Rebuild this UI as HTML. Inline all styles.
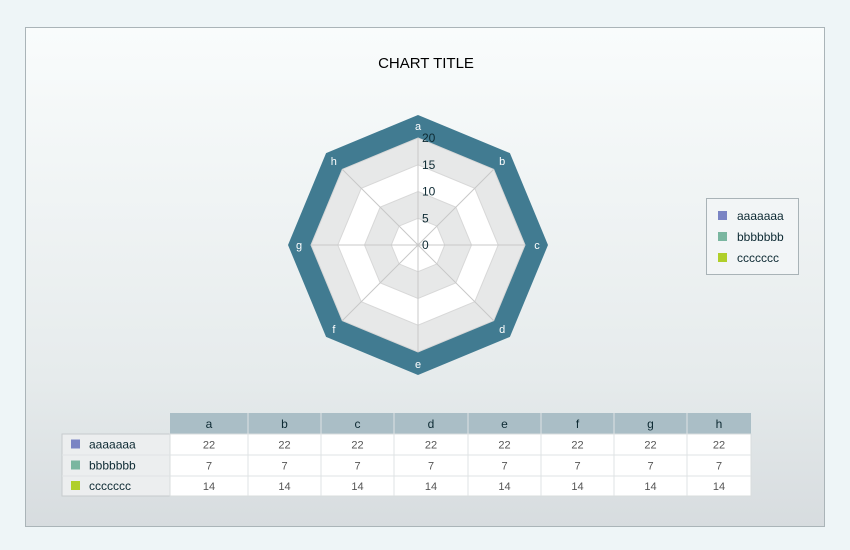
<!DOCTYPE html>
<html><head><meta charset="utf-8"><style>
body{margin:0;width:850px;height:550px;background:#eef5f7;font-family:"Liberation Sans",sans-serif;overflow:hidden}
#frame{position:absolute;left:25px;top:27px;width:798px;height:498px;border:1px solid #aab4b8;background:linear-gradient(#f9fcfc,#e6ebec 70%,#d7dcdf)}
svg{position:absolute;left:0;top:0}
</style></head><body>
<div id="frame"></div>
<svg id="chart" width="850" height="550">
<text x="426" y="68" font-size="15" text-anchor="middle" fill="#000">CHART TITLE</text>
<g id="radar"></g>
<g id="legend">
<rect x="706.5" y="198.5" width="92" height="76" fill="#f2f5f6" stroke="#a9b3b7"/>
</g>
<g id="table"></g>
</svg>
<script>
const categories=['a','b','c','d','e','f','g','h'];
const seriesNames=['aaaaaaa','bbbbbbb','ccccccc'];
const seriesA=[22,22,22,22,22,22,22,22];
const seriesB=[7,7,7,7,7,7,7,7];
const seriesC=[14,14,14,14,14,14,14,14];
const ticks=[0,5,10,15,20];
const colors=['#7a84c4','#7ab6a0','#b0cf2a'];
const NS='http://www.w3.org/2000/svg';
function mk(t,a,p){const e=document.createElementNS(NS,t);for(const k in a)e.setAttribute(k,a[k]);p.appendChild(e);return e;}
const cx=418,cy=245,R=107,maxV=20;
function rad(v){return v/maxV*R;}
function pt(i,r){const a=-Math.PI/2+i*2*Math.PI/categories.length;return [cx+r*Math.cos(a),cy+r*Math.sin(a)];}
function poly(r){return categories.map((c,i)=>pt(i,r).join(',')).join(' ');}
const g=document.getElementById('radar');
let e=mk('polygon',{points:poly(130),fill:'#417b91'},g);

for(let k=ticks.length-1;k>0;k--){
 e=mk('polygon',{points:poly(rad(ticks[k])),fill:(k%2==0)?'#e7e8e8':'#ffffff',stroke:'#d8d8d8','stroke-width':1},g);
 
 
}
categories.forEach((c,i)=>{
 const p=pt(i,R);
 e=mk('line',{x1:cx,y1:cy,x2:p[0],y2:p[1],stroke:'#c8c8c8'},g);
 
 
 const q=pt(i,119);
 e=mk('text',{x:q[0],y:q[1]+4,'font-size':11,'text-anchor':'middle',fill:'#fff'},g);e.textContent=c;
 
 
});
ticks.forEach(t=>{
 e=mk('text',{x:cx+4,y:cy-rad(t)+4,'font-size':12,fill:'#0d2a33'},g);e.textContent=t;
 
 
});
// legend
const lg=document.getElementById('legend');
seriesNames.forEach((n,i)=>{
 const y=216+i*21;
 e=mk('rect',{x:718,y:y-5,width:9,height:9,fill:colors[i]},lg);
 
 
 e=mk('text',{x:737,y:y+4,'font-size':12,fill:'#0d2a33'},lg);e.textContent=n;
 
 
});
// table
const tb=document.getElementById('table');
const colX=[170,248,321,394,468,541,614,687,751];
const rowY=[413,434,455,476,496];
const data=[seriesA,seriesB,seriesC];
e=mk('rect',{x:170,y:413,width:581,height:21,fill:'#aabec6'},tb);

e=mk('rect',{x:62,y:434,width:108,height:62,fill:'#eceeef',stroke:'#c6cbcd'},tb);

e=mk('rect',{x:170,y:434,width:581,height:62,fill:'#fff',stroke:'#d8dcdd'},tb);

for(let i=1;i<colX.length-1;i++){
 e=mk('line',{x1:colX[i],y1:413,x2:colX[i],y2:496,stroke:'#dfe3e4'},tb);
 
}
for(let r=2;r<4;r++){
 e=mk('line',{x1:62,y1:rowY[r],x2:751,y2:rowY[r],stroke:'#dfe3e4'},tb);
 
}
categories.forEach((c,i)=>{
 e=mk('text',{x:(colX[i]+colX[i+1])/2,y:428,'font-size':12,'text-anchor':'middle',fill:'#0d2a33'},tb);e.textContent=c;
 
});
seriesNames.forEach((n,r)=>{
 const y=(rowY[r+1]+rowY[r+2])/2;
 e=mk('rect',{x:71,y:y-5,width:9,height:9,fill:colors[r]},tb);
 
 e=mk('text',{x:89,y:y+4,'font-size':12,fill:'#0d2a33'},tb);e.textContent=n;
 
 data[r].forEach((v,i)=>{
  e=mk('text',{x:(colX[i]+colX[i+1])/2,y:y+4,'font-size':11,'text-anchor':'middle',fill:'#555'},tb);e.textContent=v;
  
 });
});
</script>
</body></html>
